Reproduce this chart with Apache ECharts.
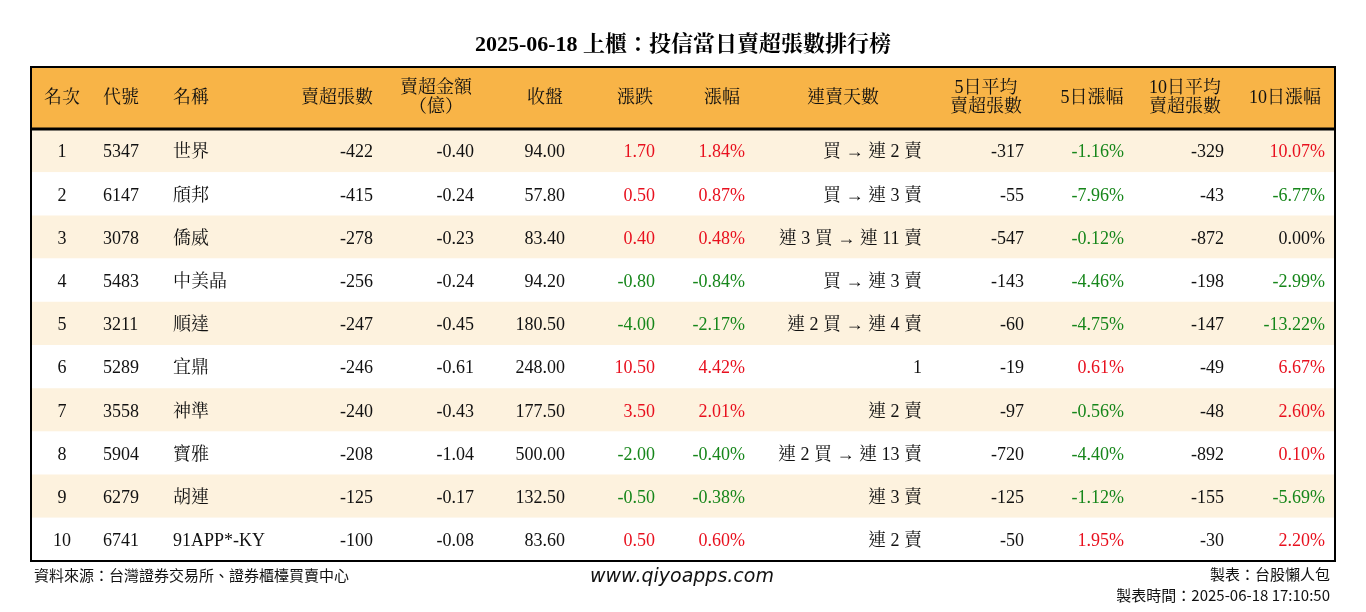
<!DOCTYPE html>
<html><head><meta charset="utf-8">
<script src="https://cdn.jsdelivr.net/npm/echarts@6/dist/echarts.min.js"></script>
<style>html,body{margin:0;padding:0;background:#fff}#c{width:1366px;height:612px}</style>
</head><body><div id="c"></div>
<script>
const headers = ['名次','代號','名稱','賣超張數','賣超金額\n（億）','收盤','漲跌','漲幅','連賣天數','5日平均\n賣超張數','5日漲幅','10日平均\n賣超張數','10日漲幅'];
const ranks = [1,2,3,4,5,6,7,8,9,10];
const codes = ['5347','6147','3078','5483','3211','5289','3558','5904','6279','6741'];
const names = ['世界','頎邦','僑威','中美晶','順達','宜鼎','神準','寶雅','胡連','91APP*-KY'];
const sellLots = [-422,-415,-278,-256,-247,-246,-240,-208,-125,-100];
const sellAmt = ['-0.40','-0.24','-0.23','-0.24','-0.45','-0.61','-0.43','-1.04','-0.17','-0.08'];
const closePx = ['94.00','57.80','83.40','94.20','180.50','248.00','177.50','500.00','132.50','83.60'];
const change = ['1.70','0.50','0.40','-0.80','-4.00','10.50','3.50','-2.00','-0.50','0.50'];
const changePct = ['1.84%','0.87%','0.48%','-0.84%','-2.17%','4.42%','2.01%','-0.40%','-0.38%','0.60%'];
const streak = ['買 → 連 2 賣','買 → 連 3 賣','連 3 買 → 連 11 賣','買 → 連 3 賣','連 2 買 → 連 4 賣','1','連 2 賣','連 2 買 → 連 13 賣','連 3 賣','連 2 賣'];
const avg5 = [-317,-55,-547,-143,-60,-19,-97,-720,-125,-50];
const pct5 = ['-1.16%','-7.96%','-0.12%','-4.46%','-4.75%','0.61%','-0.56%','-4.40%','-1.12%','1.95%'];
const avg10 = [-329,-43,-872,-198,-147,-49,-48,-892,-155,-30];
const pct10 = ['10.07%','-6.77%','0.00%','-2.99%','-13.22%','6.67%','2.60%','0.10%','-5.69%','2.20%'];

// layout (column anchor x, alignment) kept separate from data
const colX = [62,103,173,373,474,565,655,745,922,1024,1124,1224,1325];
const colAlign = ['center','left','left','right','right','right','right','right','right','right','right','right','right'];
const headX = [62,103,173,373,436,563,653,722,843,986,1092,1185,1285];
const headAlign = ['center','left','left','right','center','right','right','center','center','center','center','center','center'];
const TOP=67, HEAD=62, ROWH=43.2, LEFT=31, RIGHT=1335;

const RED='#e8101e', GREEN='#16861a', BLACK='#111';
function signColor(s){const v=parseFloat(s);return v>0?RED:(v<0?GREEN:BLACK);}

const cells=[];
for(let i=0;i<ranks.length;i++){
  const row=[String(ranks[i]),codes[i],names[i],String(sellLots[i]),sellAmt[i],closePx[i],change[i],changePct[i],streak[i],String(avg5[i]),pct5[i],String(avg10[i]),pct10[i]];
  const colors=[BLACK,BLACK,BLACK,BLACK,BLACK,BLACK,signColor(change[i]),signColor(changePct[i]),BLACK,BLACK,signColor(pct5[i]),BLACK,signColor(pct10[i])];
  row.forEach((t,c)=>cells.push({value:[colX[c],TOP+HEAD+ROWH*(i+0.5)+2],text:t,color:colors[c],align:colAlign[c]}));
}
const rowsBg = ranks.map((r,i)=>({value:[LEFT,TOP+HEAD+ROWH*i,RIGHT,TOP+HEAD+ROWH*(i+1)],fill:i%2===0?'#fdf2de':'#ffffff'}));
const heads = headers.map((h,c)=>({value:[headX[c],TOP+HEAD/2],text:h,align:headAlign[c]}));
const FONT='"Liberation Serif","Noto Serif CJK TC","Noto Sans CJK TC",serif';

const chart=echarts.init(document.getElementById('c'));
chart.setOption({
  animation:false,
  title:{text:'2025-06-18 上櫃：投信當日賣超張數排行榜',left:'center',top:29,textStyle:{fontSize:22,fontWeight:'bold',color:'#000',fontFamily:FONT}},
  grid:{left:0,right:0,top:0,bottom:0},
  xAxis:{type:'value',min:0,max:1366,show:false},
  yAxis:{type:'value',min:0,max:612,inverse:true,show:false},
  graphic:[
    {type:'text',left:34,top:568,style:{text:'資料來源：台灣證券交易所、證券櫃檯買賣中心',fontSize:15,fill:'#111',fontFamily:'"Noto Sans CJK TC"'}},
    {type:'text',left:590,top:568,style:{text:'www.qiyoapps.com',fontSize:19,fontStyle:'italic',fill:'#111',fontFamily:'"DejaVu Sans"'}},
    {type:'text',right:36,top:567,style:{text:'製表：台股懶人包',fontSize:15,fill:'#111',fontFamily:'"Noto Sans CJK TC"',align:'right'}},
    {type:'text',right:36,top:588,style:{text:'製表時間：2025-06-18 17:10:50',fontSize:15,fill:'#111',fontFamily:'"Noto Sans CJK TC"',align:'right'}}
  ],
  series:[
    {type:'custom',data:rowsBg,silent:true,renderItem:(p,api)=>{
      const a=api.coord([api.value(0),api.value(1)]),b=api.coord([api.value(2),api.value(3)]);
      return {type:'rect',shape:{x:a[0],y:a[1],width:b[0]-a[0],height:b[1]-a[1]},style:{fill:rowsBg[p.dataIndex].fill}};
    }},
    {type:'custom',data:[{value:[LEFT,TOP,RIGHT,TOP+HEAD]}],silent:true,renderItem:(p,api)=>{
      const a=api.coord([api.value(0),api.value(1)]),b=api.coord([api.value(2),api.value(3)]);
      const end=api.coord([api.value(2),TOP+HEAD+ROWH*ranks.length]);
      return {type:'group',children:[
        {type:'rect',shape:{x:a[0],y:a[1],width:b[0]-a[0],height:b[1]-a[1]},style:{fill:'#f8b447'}},
        {type:'line',shape:{x1:a[0],y1:b[1],x2:b[0],y2:b[1]},style:{stroke:'#000',lineWidth:3}},
        {type:'rect',shape:{x:a[0],y:a[1],width:b[0]-a[0],height:end[1]-a[1]},style:{fill:null,stroke:'#000',lineWidth:2}}
      ]};
    }},
    {type:'custom',data:heads,silent:true,renderItem:(p,api)=>{
      const pt=api.coord([api.value(0),api.value(1)]);const d=heads[p.dataIndex];
      return {type:'text',x:pt[0],y:pt[1],style:{text:d.text,align:d.align,verticalAlign:'middle',fontSize:18,lineHeight:19,fill:'#111',fontFamily:FONT}};
    }},
    {type:'custom',data:cells,silent:true,renderItem:(p,api)=>{
      const pt=api.coord([api.value(0),api.value(1)]);const d=cells[p.dataIndex];
      return {type:'text',x:pt[0],y:pt[1],style:{text:d.text,align:d.align,verticalAlign:'middle',fontSize:18,fill:d.color,fontFamily:FONT}};
    }}
  ]
});
</script></body></html>
